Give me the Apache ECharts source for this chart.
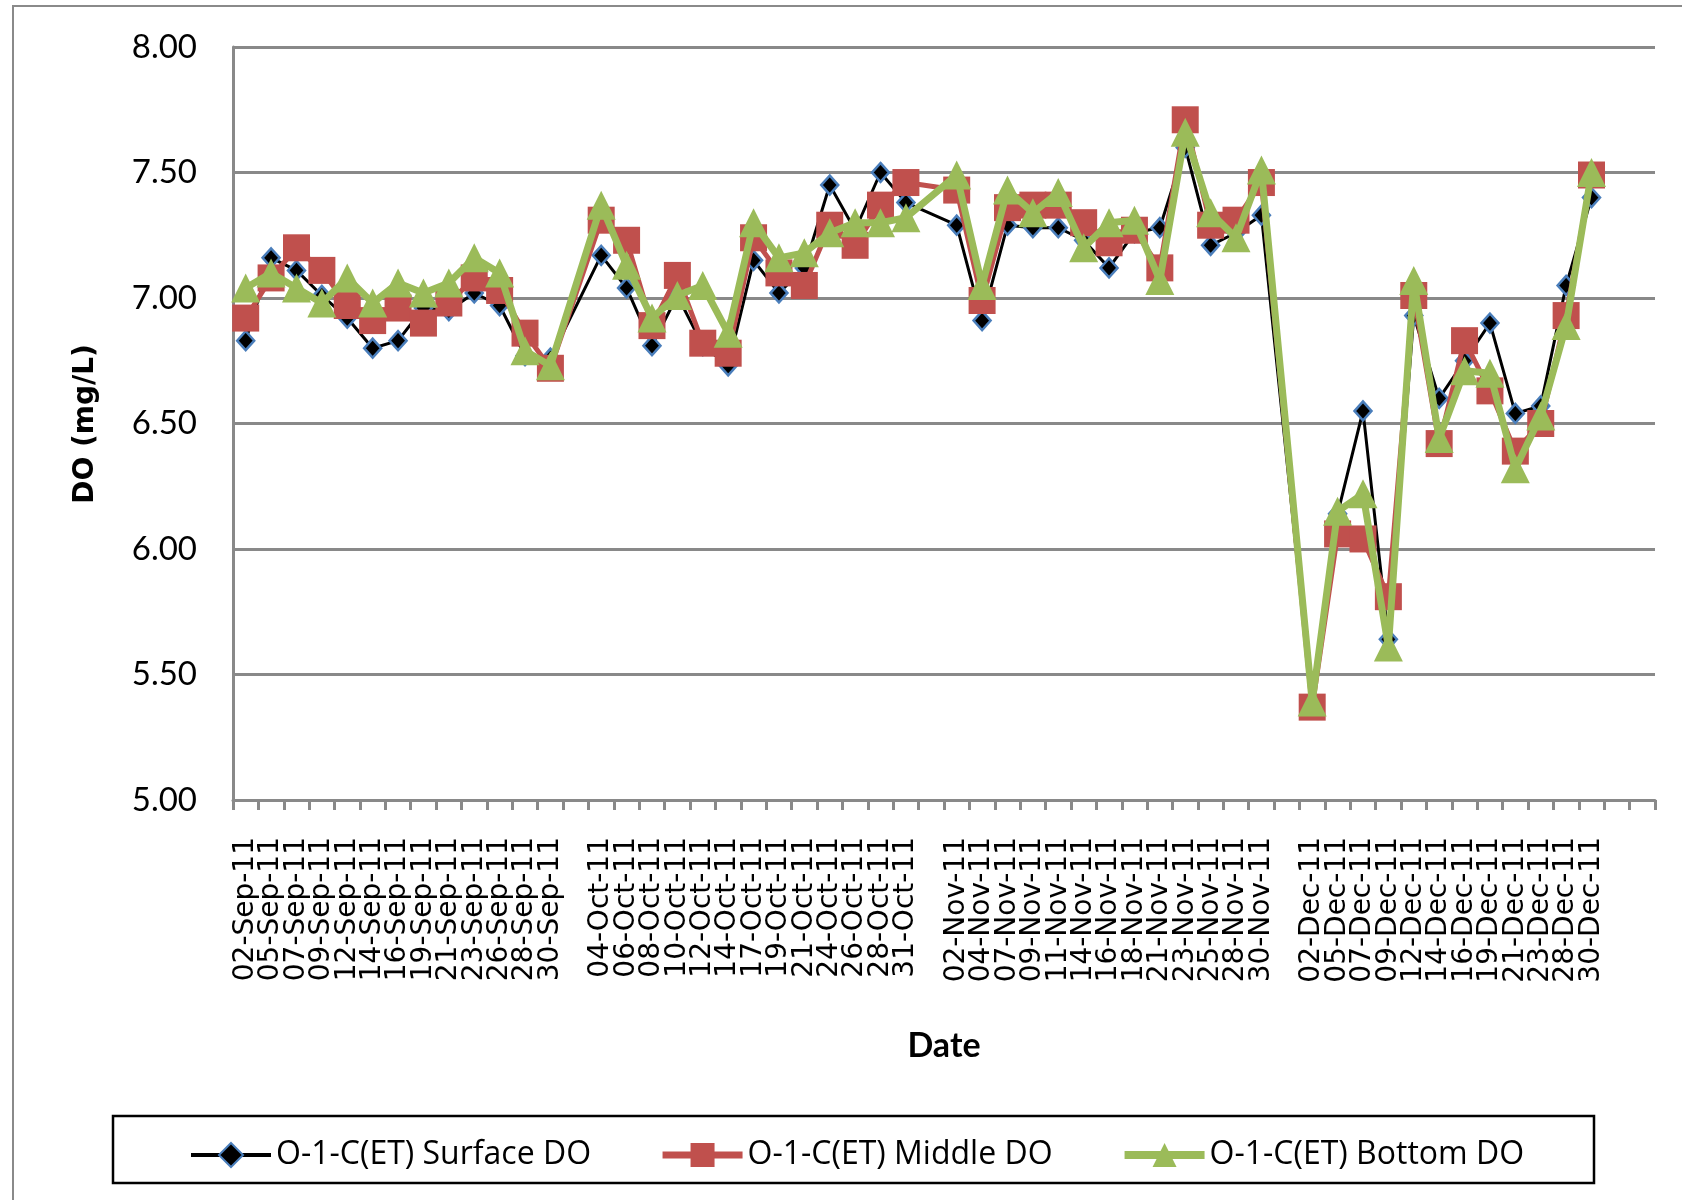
<!DOCTYPE html>
<html>
<head>
<meta charset="utf-8">
<script src="https://cdn.jsdelivr.net/npm/echarts@6/dist/echarts.min.js"></script>
<style>
  html, body { margin: 0; padding: 0; background: #ffffff; }
  #chart { width: 1682px; height: 1200px; }
</style>
</head>
<body>
<div id="chart"></div>
<script>
// Sampling dates, one slot per category; '' marks the spacer slot between months
// and the two trailing empty slots at the end of the axis.
const dateLabels = [
  '02-Sep-11','05-Sep-11','07-Sep-11','09-Sep-11','12-Sep-11','14-Sep-11','16-Sep-11',
  '19-Sep-11','21-Sep-11','23-Sep-11','26-Sep-11','28-Sep-11','30-Sep-11',
  '',
  '04-Oct-11','06-Oct-11','08-Oct-11','10-Oct-11','12-Oct-11','14-Oct-11','17-Oct-11',
  '19-Oct-11','21-Oct-11','24-Oct-11','26-Oct-11','28-Oct-11','31-Oct-11',
  '',
  '02-Nov-11','04-Nov-11','07-Nov-11','09-Nov-11','11-Nov-11','14-Nov-11','16-Nov-11',
  '18-Nov-11','21-Nov-11','23-Nov-11','25-Nov-11','28-Nov-11','30-Nov-11',
  '',
  '02-Dec-11','05-Dec-11','07-Dec-11','09-Dec-11','12-Dec-11','14-Dec-11','16-Dec-11',
  '19-Dec-11','21-Dec-11','23-Dec-11','28-Dec-11','30-Dec-11',
  '', ''
];

// Dissolved oxygen (mg/L) at station O-1-C(ET); null where no sample was taken
const surfaceDO = [
  6.83, 7.16, 7.11, 7.01, 6.92, 6.80, 6.83, 6.96, 6.95, 7.02, 6.97, 6.77, 6.76,
  null,
  7.17, 7.04, 6.81, 7.01, 6.81, 6.73, 7.15, 7.02, 7.12, 7.45, 7.27, 7.50, 7.38,
  null,
  7.29, 6.91, 7.29, 7.28, 7.28, 7.23, 7.12, 7.26, 7.28, 7.60, 7.21, 7.26, 7.33,
  null,
  5.38, 6.14, 6.55, 5.64, 6.93, 6.60, 6.75, 6.90, 6.54, 6.57, 7.05, 7.40,
  null, null
];

const middleDO = [
  6.92, 7.08, 7.20, 7.11, 6.97, 6.91, 6.96, 6.90, 6.98, 7.08, 7.03, 6.86, 6.72,
  null,
  7.31, 7.23, 6.89, 7.09, 6.82, 6.78, 7.24, 7.10, 7.05, 7.29, 7.21, 7.37, 7.46,
  null,
  7.43, 6.99, 7.36, 7.37, 7.37, 7.30, 7.22, 7.27, 7.12, 7.71, 7.29, 7.31, 7.46,
  null,
  5.37, 6.06, 6.04, 5.81, 7.01, 6.42, 6.83, 6.63, 6.39, 6.50, 6.93, 7.49,
  null, null
];

const bottomDO = [
  7.04, 7.10, 7.04, 6.98, 7.08, 6.98, 7.06, 7.02, 7.06, 7.16, 7.10, 6.79, 6.73,
  null,
  7.37, 7.13, 6.92, 7.01, 7.05, 6.86, 7.30, 7.16, 7.18, 7.26, 7.30, 7.30, 7.32,
  null,
  7.49, 7.05, 7.43, 7.34, 7.42, 7.20, 7.30, 7.31, 7.07, 7.66, 7.34, 7.24, 7.51,
  null,
  5.39, 6.15, 6.22, 5.61, 7.07, 6.44, 6.71, 6.70, 6.32, 6.53, 6.89, 7.50,
  null, null
];

const seriesNames = ['O-1-C(ET) Surface DO', 'O-1-C(ET) Middle DO', 'O-1-C(ET) Bottom DO'];
const yTicks = { min: 5, max: 8, step: 0.5 };

const GRID_GRAY = '#898989';
const SURFACE = { line: '#000000', fill: '#000000', edge: '#4a7ebb', width: 3 };
const MIDDLE = { line: '#c0504d', width: 5 };
const BOTTOM = { line: '#9bbb59', width: 7 };

const chart = echarts.init(document.getElementById('chart'), null, { renderer: 'canvas' });

chart.setOption({
  animation: false,
  backgroundColor: '#ffffff',
  grid: { left: 233, right: 27, top: 47, bottom: 400, containLabel: false },
  graphic: [
    {
      type: 'rect', silent: true, z: -10,
      shape: { x: 13, y: 6, width: 1720, height: 1260 },
      style: { fill: 'none', stroke: '#8a8a8a', lineWidth: 2 }
    },
    {
      type: 'rect', silent: true, z: -5,
      shape: { x: 113, y: 1116, width: 1481, height: 67 },
      style: { fill: '#ffffff', stroke: '#000000', lineWidth: 2.5 }
    },
    {
      type: 'text', silent: true,
      x: 86, y: 424, rotation: Math.PI / 2,
      style: {
        text: 'DO (mg/L)', fill: '#000000',
        font: 'bold 28px "DejaVu Sans", sans-serif',
        align: 'center', verticalAlign: 'middle'
      }
    },
    {
      type: 'text', silent: true,
      x: 944, y: 1046,
      style: {
        text: 'Date', fill: '#000000',
        font: 'bold 34px Lato, "Open Sans", sans-serif',
        align: 'center', verticalAlign: 'middle'
      }
    }
  ],
  legend: {
    data: [
      { name: seriesNames[0], lineStyle: { width: SURFACE.width + 1 } },
      { name: seriesNames[1], lineStyle: { width: MIDDLE.width + 2 } },
      { name: seriesNames[2], lineStyle: { width: BOTTOM.width + 1 } }
    ],
    left: 184,
    top: 1134,
    itemWidth: 80,
    itemHeight: 30,
    itemGap: 68,
    textStyle: {
      fontFamily: '"Open Sans", sans-serif',
      fontSize: 32,
      color: '#000000'
    }
  },
  xAxis: {
    type: 'category',
    data: dateLabels,
    boundaryGap: true,
    axisLine: { show: true, lineStyle: { color: GRID_GRAY, width: 3 } },
    axisTick: { show: true, interval: 0, length: 10, alignWithLabel: false,
                lineStyle: { color: GRID_GRAY, width: 3 } },
    axisLabel: {
      interval: 0, rotate: 90, margin: 37,
      fontFamily: '"DejaVu Sans", sans-serif', fontSize: 28, color: '#000000'
    },
    splitLine: { show: false }
  },
  yAxis: {
    type: 'value',
    min: yTicks.min, max: yTicks.max, interval: yTicks.step,
    axisLine: { show: true, lineStyle: { color: GRID_GRAY, width: 3 } },
    axisTick: { show: false },
    axisLabel: {
      margin: 36,
      fontFamily: 'Lato, "Open Sans", sans-serif', fontSize: 33, color: '#000000',
      formatter: v => v.toFixed(2)
    },
    splitLine: { show: true, lineStyle: { color: GRID_GRAY, width: 3 } }
  },
  series: [
    {
      name: seriesNames[0], type: 'line', data: surfaceDO, connectNulls: true,
      symbol: 'diamond', symbolSize: [17, 19],
      lineStyle: { color: SURFACE.line, width: SURFACE.width },
      itemStyle: { color: SURFACE.fill, borderColor: SURFACE.edge, borderWidth: 2.5 },
      z: 2
    },
    {
      name: seriesNames[1], type: 'line', data: middleDO, connectNulls: true,
      symbol: 'rect', symbolSize: 27,
      lineStyle: { color: MIDDLE.line, width: MIDDLE.width },
      itemStyle: { color: MIDDLE.line, borderWidth: 0 },
      z: 3
    },
    {
      name: seriesNames[2], type: 'line', data: bottomDO, connectNulls: true,
      symbol: 'triangle', symbolSize: 29,
      lineStyle: { color: BOTTOM.line, width: BOTTOM.width },
      itemStyle: { color: BOTTOM.line, borderWidth: 0 },
      z: 4
    }
  ]
});
</script>
</body>
</html>
